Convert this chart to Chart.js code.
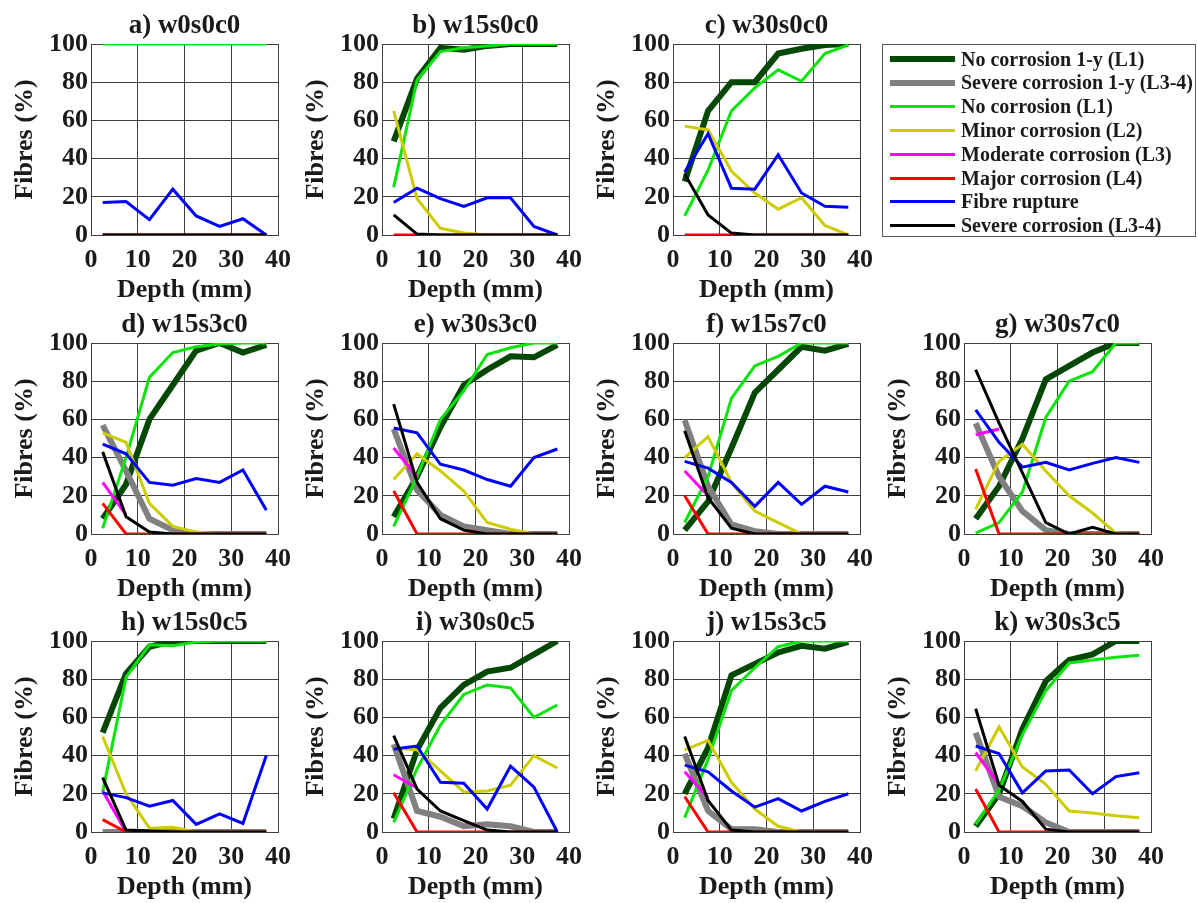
<!DOCTYPE html>
<html>
<head>
<meta charset="utf-8">
<script src="https://cdn.jsdelivr.net/npm/chart.js@4.4.1/dist/chart.umd.min.js"></script>
<style>
  html, body { margin: 0; padding: 0; background: #fff; overflow: hidden; }
  #page { position: relative; width: 1198px; height: 903px; }
  .panel { position: absolute; }
  #legend {
    position: absolute; left: 882px; top: 44px; width: 314px; height: 193px;
    box-sizing: border-box; border: 1px solid #5a5a5a; background: #fff;
    font: bold 20px 'Liberation Serif', 'Times New Roman', serif; color: #1a1a1a;
  }
  .leg-row { position: absolute; left: 0; height: 24px; display: flex; align-items: center; white-space: nowrap; }
  .leg-line { width: 65px; margin-left: 7px; margin-right: 6px; }
</style>
</head>
<body>
<div id="page"></div>
<script>
const depth = [2.5, 7.5, 12.5, 17.5, 22.5, 27.5, 32.5, 37.5];
const panelNames = ['a) w0s0c0', 'b) w15s0c0', 'c) w30s0c0', 'd) w15s3c0', 'e) w30s3c0',
                    'f) w15s7c0', 'g) w30s7c0', 'h) w15s0c5', 'i) w30s0c5', 'j) w15s3c5', 'k) w30s3c5'];

const seriesNames = ['No corrosion 1-y (L1)', 'Severe corrosion 1-y (L3-4)', 'No corrosion (L1)',
                     'Minor corrosion (L2)', 'Moderate corrosion (L3)', 'Major corrosion (L4)',
                     'Fibre rupture', 'Severe corrosion (L3-4)'];
const seriesColors = ['#024702', '#808080', '#0be40b', '#cccc00', '#ff00ff', '#ff0000', '#0000ff', '#000000'];
const seriesWidths = [6, 6, 3, 3, 3, 3, 3, 3];

// one row per panel, a) .. k)
const noCorrosion1y = [
  null,
  [49, 82, 98, 97, 99, 100, 100, 100],
  [28, 65, 80, 80, 95, 97.5, 99.5, 100],
  [8, 26, 60, 78, 96, 100, 95, 99],
  [9, 30, 56, 78, 86, 93, 92.5, 99],
  [2, 17, 45, 74, 86, 98, 96, 99.5],
  [8, 25, 50, 81, 88, 95, 100, 100],
  [52, 83, 97, 100, 100, 100, 100, 100],
  [7, 43, 65, 77, 84, 86, 93, 100],
  [20, 44, 82, 88, 94, 97.5, 96, 99.5],
  [3, 20, 54, 79, 90, 93, 100, 100]
];
const severe1y = [
  null, null, null,
  [57, 33, 8, 2, 0, 0, 0, 0],
  [55, 23, 10, 4, 2, 0, 0, 0],
  [59.5, 25, 5, 1.5, 0, 0, 0, 0],
  [58, 30, 12, 2, 0, 0, 0, 0],
  [0, 0, 0, 0, 0, 0, 0, 0],
  [46, 11, 8, 3, 4, 3, 0, 0],
  [41, 11, 1.5, 1.5, 0, 0, 0, 0],
  [52, 18.5, 13.5, 5, 0, 0, 0, 0]
];
const noCorrosion = [
  [100, 100, 100, 100, 100, 100, 100, 100],
  [25, 81, 96, 98, 99, 100, 100, 100],
  [10, 34, 65, 77, 86.5, 80.5, 95, 99.5],
  [3, 40, 82, 95, 98, 99.5, 100, 100],
  [4, 30, 60, 75, 94, 97.5, 100, 100],
  [6, 30, 71, 88, 93, 100, 100, 100],
  [0.5, 6, 22, 61, 80, 85, 100, 100],
  [21, 81, 98, 97.5, 99.5, 100, 100, 100],
  [5, 33, 56, 72, 77, 75.5, 60, 66.5],
  [7.5, 38, 74, 86, 97, 100, 100, 100],
  [4, 22, 51, 74, 88.5, 90, 91.5, 92.5]
];
const minorCorrosion = [
  [0, 0, 0, 0, 0, 0, 0, 0],
  [65, 19, 3.5, 1, 0, 0, 0, 0],
  [57, 55, 33.5, 22, 13.5, 19.5, 5, 0],
  [53, 48, 16, 4, 1, 0, 0, 0],
  [28.5, 42, 33, 22.5, 6, 2.5, 0, 0],
  [40, 51, 27, 12, 6, 0, 0, 0],
  [13, 38, 47, 33, 20, 11, 0.5, 0],
  [50, 20, 2, 2.5, 0, 0, 0, 0],
  [44, 43, 32, 21, 21.5, 24.5, 40, 33.5],
  [43, 48, 26, 12, 3, 0, 0, 0],
  [32, 55, 34, 25, 11, 10, 8.5, 7.5]
];
// moderate corrosion only recorded at the first two depths
const moderateCorrosion = [
  null, null, null,
  [27, 10],
  [45, 30],
  [33, 20],
  [52, 55],
  [21.5, 0],
  [30, 23],
  [31.5, 18],
  [41.5, 25]
];
const majorCorrosion = [
  [0, 0, 0, 0, 0, 0, 0, 0],
  [0, 0, 0, 0, 0, 0, 0, 0],
  [0, 0, 0, 0, 0, 0, 0, 0],
  [16, 0, 0, 0, 0, 0, 0, 0],
  [22.5, 0, 0, 0, 0, 0, 0, 0],
  [20, 0, 0, 0, 0, 0, 0, 0],
  [34, 0, 0, 0, 0, 0, 0, 0],
  [6.5, 0, 0, 0, 0, 0, 0, 0],
  [20.5, 0, 0, 0, 0, 0, 0, 0],
  [18.5, 0, 0, 0, 0, 0, 0, 0],
  [22.5, 0, 0, 0, 0, 0, 0, 0]
];
const fibreRupture = [
  [17, 17.5, 8, 24, 10, 4.5, 8.5, 0],
  [17, 24.5, 19, 15, 19.5, 19.5, 4.5, 0],
  [33, 53, 24.5, 24, 42, 22, 15, 14.5],
  [47, 42, 27, 25.5, 29, 27, 33.5, 12.5],
  [55.5, 53, 36.5, 33.5, 28.5, 25, 40, 44.5],
  [38, 34.5, 27, 14.5, 27, 15.5, 25, 22],
  [65, 48, 35, 37.5, 33.5, 37, 40, 37.5],
  [20.5, 18, 13.5, 16.5, 4, 9.5, 4.5, 40],
  [43.5, 45, 26, 25.5, 12, 34.5, 23.5, 0],
  [35, 31.5, 21.5, 13, 17.5, 11, 16, 20],
  [45, 41, 20.5, 32, 32.5, 20, 29, 31]
];
const severeCorrosion = [
  [0, 0, 0, 0, 0, 0, 0, 0],
  [10.5, 0.5, 0, 0, 0, 0, 0, 0],
  [32, 10.5, 1, 0, 0, 0, 0, 0],
  [43, 9, 1, 0, 0, 0, 0, 0],
  [68, 27, 8, 2, 0, 0, 0, 0],
  [54, 19, 3, 0, 0, 0, 0, 0],
  [86, 58, 32, 6, 0, 3.5, 0, 0],
  [28.5, 1, 0.5, 0, 0, 0, 0, 0],
  [50.5, 22.5, 11, 6, 1, 0, 0, 0],
  [50, 16.5, 1, 0, 0, 0, 0, 0],
  [64.5, 24.5, 16, 1.5, 0, 0, 0, 0]
];

const allSeries = [noCorrosion1y, severe1y, noCorrosion, minorCorrosion,
                   moderateCorrosion, majorCorrosion, fibreRupture, severeCorrosion];

// grid slots (page px) of the plot boxes: a-c on row 1, d-g row 2, h-k row 3
const colLeft = [91, 382, 673, 964];
const rowTop = [44, 343, 641];
const slots = [[0, 0], [0, 1], [0, 2], [1, 0], [1, 1], [1, 2], [1, 3], [2, 0], [2, 1], [2, 2], [2, 3]];

const FONT = "'Liberation Serif', 'Times New Roman', serif";
const INK = '#1a1a1a';
const GRID = '#404040';

const page = document.getElementById('page');

panelNames.forEach((name, p) => {
  const [r, c] = slots[p];
  const canvas = document.createElement('canvas');
  canvas.className = 'panel';
  canvas.width = 300;
  canvas.height = 310;
  canvas.style.left = (colLeft[c] - 90) + 'px';
  canvas.style.top = (rowTop[r] - 44) + 'px';
  page.appendChild(canvas);

  const datasets = [];
  allSeries.forEach((series, s) => {
    const vals = series[p];
    if (!vals) return;
    datasets.push({
      label: seriesNames[s],
      data: vals.map((v, i) => ({x: depth[i], y: v})),
      borderColor: seriesColors[s],
      backgroundColor: seriesColors[s],
      borderWidth: seriesWidths[s],
      pointRadius: 0,
      tension: 0,
      fill: false,
      order: allSeries.length - s
    });
  });

  new Chart(canvas.getContext('2d'), {
    type: 'line',
    data: {datasets},
    options: {
      responsive: false,
      animation: false,
      devicePixelRatio: 1,
      layout: {padding: {left: 0, right: 14, top: 0, bottom: 0}},
      plugins: {
        legend: {display: false},
        tooltip: {enabled: false},
        title: {
          display: true, text: name, color: INK, fullSize: false,
          font: {family: FONT, size: 27, weight: 'bold'},
          padding: {top: 10.3, bottom: 1.3}
        }
      },
      scales: {
        x: {
          type: 'linear', min: 0, max: 40,
          ticks: {stepSize: 10, padding: 10, maxRotation: 0, color: INK,
                  font: {family: FONT, size: 26, weight: 'bold'}},
          grid: {color: GRID, lineWidth: 1, drawTicks: false},
          border: {color: GRID},
          title: {display: true, text: 'Depth (mm)', color: INK,
                  font: {family: FONT, size: 26, weight: 'bold'},
                  padding: {top: 0, bottom: 4}},
          afterFit(scale) { scale.height = 75; }
        },
        y: {
          min: 0, max: 100,
          ticks: {stepSize: 20, padding: 3, color: INK,
                  font: {family: FONT, size: 26, weight: 'bold'}},
          grid: {color: GRID, lineWidth: 1, drawTicks: false},
          border: {color: GRID},
          title: {display: true, text: 'Fibres (%)', color: INK,
                  font: {family: FONT, size: 26, weight: 'bold'},
                  padding: {top: 9, bottom: 0}},
          afterFit(scale) { scale.width = 90; }
        }
      }
    }
  });
});

// legend box in the empty top-right slot
const legend = document.createElement('div');
legend.id = 'legend';
seriesNames.forEach((label, s) => {
  const row = document.createElement('div');
  row.className = 'leg-row';
  row.style.top = (2 + s * 23.8) + 'px';
  const line = document.createElement('span');
  line.className = 'leg-line';
  line.style.height = seriesWidths[s] + 'px';
  line.style.background = seriesColors[s];
  const text = document.createElement('span');
  text.textContent = label;
  row.appendChild(line);
  row.appendChild(text);
  legend.appendChild(row);
});
page.appendChild(legend);
</script>
</body>
</html>
